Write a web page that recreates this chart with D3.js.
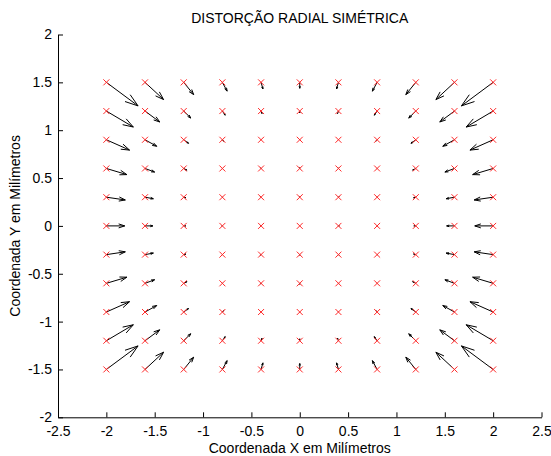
<!DOCTYPE html>
<html><head><meta charset="utf-8">
<script src="https://cdn.jsdelivr.net/npm/d3@7"></script>
<style>
body{margin:0;background:#fff}
svg{display:block}
text{font-family:"Liberation Sans",Arial,Helvetica,sans-serif;fill:#000}
</style>
</head><body><svg id="c" width="551" height="456"></svg>
<script>
const title = "DISTORÇÃO RADIAL SIMÉTRICA";
const xLabel = "Coordenada X em Milímetros";
const yLabel = "Coordenada Y em Milímetros";
const xTicks = [-2.5,-2,-1.5,-1,-0.5,0,0.5,1,1.5,2,2.5];
const yTicks = [-2,-1.5,-1,-0.5,0,0.5,1,1.5,2];
const gridX = [-2,-1.6,-1.2,-0.8,-0.4,0,0.4,0.8,1.2,1.6,2];
const gridY = [1.5,1.2,0.9,0.6,0.3,0,-0.3,-0.6,-0.9,-1.2,-1.5];
// displacement components (rows follow gridY, columns follow gridX)
const U = [
 [0.328,0.192,0.103,0.049,0.019,0,-0.019,-0.049,-0.103,-0.192,-0.328],
 [0.279,0.152,0.073,0.029,0.009,0,-0.009,-0.029,-0.073,-0.152,-0.279],
 [0.240,0.121,0.050,0.013,0.001,0,-0.001,-0.013,-0.050,-0.121,-0.240],
 [0.212,0.099,0.033,0.002,-0.005,0,0.005,-0.002,-0.033,-0.099,-0.212],
 [0.196,0.086,0.023,-0.004,-0.008,0,0.008,0.004,-0.023,-0.086,-0.196],
 [0.190,0.081,0.020,-0.006,-0.009,0,0.009,0.006,-0.020,-0.081,-0.190],
 [0.196,0.086,0.023,-0.004,-0.008,0,0.008,0.004,-0.023,-0.086,-0.196],
 [0.212,0.099,0.033,0.002,-0.005,0,0.005,-0.002,-0.033,-0.099,-0.212],
 [0.240,0.121,0.050,0.013,0.001,0,-0.001,-0.013,-0.050,-0.121,-0.240],
 [0.279,0.152,0.073,0.029,0.009,0,-0.009,-0.029,-0.073,-0.152,-0.279],
 [0.328,0.192,0.103,0.049,0.019,0,-0.019,-0.049,-0.103,-0.192,-0.328]
];
const V = [
 [-0.246,-0.180,-0.128,-0.092,-0.069,-0.062,-0.069,-0.092,-0.128,-0.180,-0.246],
 [-0.167,-0.114,-0.073,-0.043,-0.026,-0.020,-0.026,-0.043,-0.073,-0.114,-0.167],
 [-0.108,-0.068,-0.037,-0.015,-0.002,0.003,-0.002,-0.015,-0.037,-0.068,-0.108],
 [-0.064,-0.037,-0.017,-0.002,0.007,0.010,0.007,-0.002,-0.017,-0.037,-0.064],
 [-0.029,-0.016,-0.006,0.002,0.006,0.007,0.006,0.002,-0.006,-0.016,-0.029],
 [0,0,0,0,0,0,0,0,0,0,0],
 [0.029,0.016,0.006,-0.002,-0.006,-0.007,-0.006,-0.002,0.006,0.016,0.029],
 [0.064,0.037,0.017,0.002,-0.007,-0.010,-0.007,0.002,0.017,0.037,0.064],
 [0.108,0.068,0.037,0.015,0.002,-0.003,0.002,0.015,0.037,0.068,0.108],
 [0.167,0.114,0.073,0.043,0.026,0.020,0.026,0.043,0.073,0.114,0.167],
 [0.246,0.180,0.128,0.092,0.069,0.062,0.069,0.092,0.128,0.180,0.246]
];

const svg = d3.select("#c");
const x = d3.scaleLinear().domain([-2.5, 2.5]).range([58, 541.5]);
const y = d3.scaleLinear().domain([-2, 2]).range([417.3, 34.5]);
const fmt = d => String(d);

// axes
const gx = svg.append("g").attr("transform", `translate(0,${y(-2)})`)
  .call(d3.axisBottom(x).tickValues(xTicks).tickFormat(fmt).tickSizeInner(-5).tickSizeOuter(0).tickPadding(9));
const gy = svg.append("g").attr("transform", `translate(${x(-2.5)},0)`)
  .call(d3.axisLeft(y).tickValues(yTicks).tickFormat(fmt).tickSizeInner(-5).tickSizeOuter(0).tickPadding(6));
[gx, gy].forEach(g => {
  g.select(".domain").attr("stroke", "#000").attr("stroke-width", 1);
  g.selectAll(".tick line").attr("stroke", "#000");
  g.selectAll(".tick text").attr("font-size", 14).attr("font-family", '"Liberation Sans",Arial,sans-serif').attr("fill", "#000");
});

// vectors
const alpha = 0.33, beta = 0.33;
const vecs = [];
gridY.forEach((yv, i) => gridX.forEach((xv, j) => vecs.push({x: xv, y: yv, u: U[i][j], v: V[i][j]})));
const ag = svg.append("g").attr("fill", "none").attr("stroke", "#000").attr("stroke-width", 1);
vecs.forEach(d => {
  const tx = d.x + d.u, ty = d.y + d.v;
  ag.append("line").attr("x1", x(d.x)).attr("y1", y(d.y)).attr("x2", x(tx)).attr("y2", y(ty));
  const h1x = tx - alpha * (d.u + beta * d.v), h1y = ty - alpha * (d.v - beta * d.u);
  const h2x = tx - alpha * (d.u - beta * d.v), h2y = ty - alpha * (d.v + beta * d.u);
  ag.append("polyline").attr("points", `${x(h1x)},${y(h1y)} ${x(tx)},${y(ty)} ${x(h2x)},${y(h2y)}`);
});

// markers
const mg = svg.append("g").attr("stroke", "#ff2a2a").attr("stroke-width", 1);
vecs.forEach(d => {
  const cx = x(d.x), cy = y(d.y), s = 3;
  mg.append("path").attr("d", `M${cx-s},${cy-s}L${cx+s},${cy+s}M${cx-s},${cy+s}L${cx+s},${cy-s}`);
});

// texts
svg.append("text").attr("x", x(0)).attr("y", 23).attr("text-anchor", "middle").attr("font-size", 14).text(title);
svg.append("text").attr("x", x(0)).attr("y", 453).attr("text-anchor", "middle").attr("font-size", 14).text(xLabel);
svg.append("text").attr("transform", `translate(20,${y(0)}) rotate(-90)`).attr("text-anchor", "middle").attr("font-size", 14).text(yLabel);
</script>
</body></html>
